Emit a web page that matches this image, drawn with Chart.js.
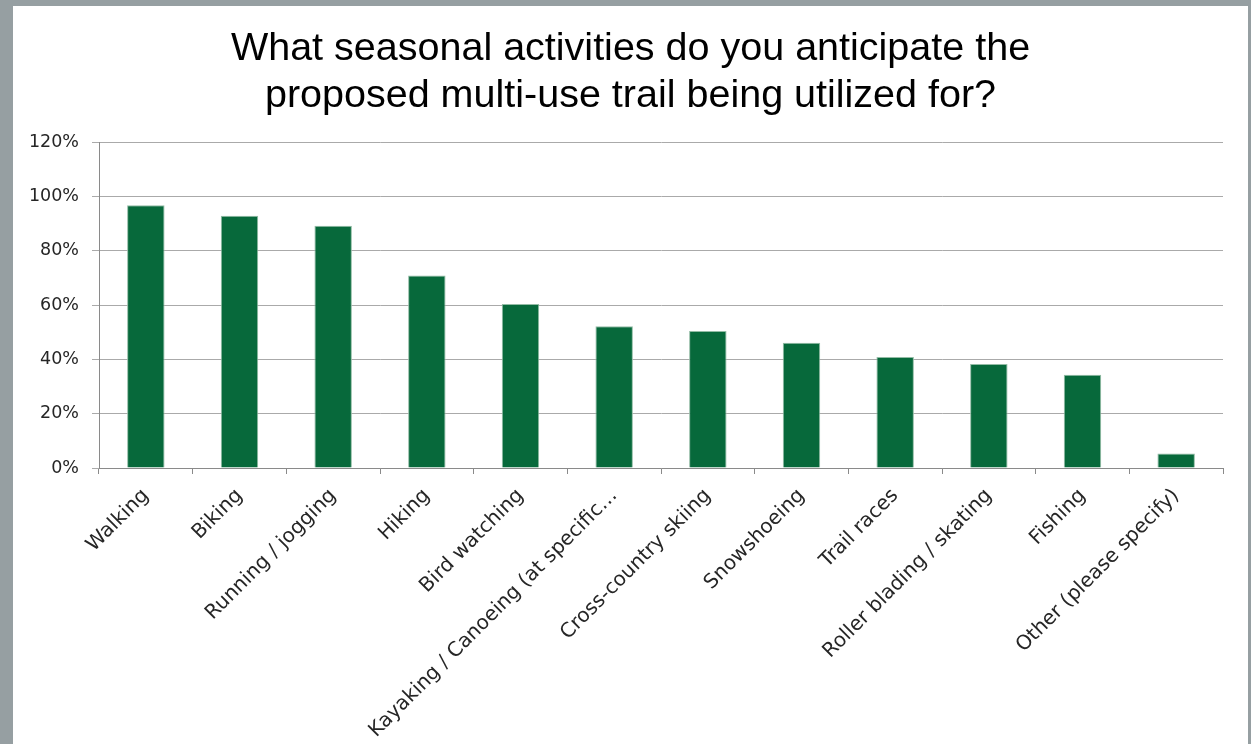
<!DOCTYPE html>
<html>
<head>
<meta charset="utf-8">
<script src="https://cdn.jsdelivr.net/npm/chart.js@4"></script>
<style>
    html, body { margin: 0; padding: 0; }
    body { width: 1251px; height: 744px; background: #969fa2; overflow: hidden; position: relative; }
    .panel { position: absolute; left: 13px; top: 6px; width: 1235px; height: 738px; background: #ffffff; }
</style>
</head>
<body>
<div class="panel"><canvas id="chart-activities"></canvas></div>
<script>
const TITLE_LINES = [
    'What seasonal activities do you anticipate the',
    'proposed multi-use trail being utilized for?'
];

const activities = [
    'Walking', 'Biking', 'Running / jogging', 'Hiking', 'Bird watching',
    'Kayaking / Canoeing (at specific…', 'Cross-country skiing', 'Snowshoeing',
    'Trail races', 'Roller blading / skating', 'Fishing', 'Other (please specify)'
];

const shares = [0.967, 0.929, 0.892, 0.709, 0.604, 0.522, 0.504, 0.461, 0.409, 0.383, 0.343, 0.053];

const yTicks = [0, 0.2, 0.4, 0.6, 0.8, 1.0, 1.2];

const LABEL_FONT = 'DejaVu Sans';

const ctx = document.getElementById('chart-activities').getContext('2d');

new Chart(ctx, {
    type: 'bar',
    data: {
        labels: activities,
        datasets: [{
            data: shares,
            backgroundColor: '#07693b',
            borderColor: '#93bca5',
            borderWidth: { left: 1, right: 1, top: 1, bottom: 0 },
            categoryPercentage: 1.0,
            barPercentage: 0.4
        }]
    },
    options: {
        responsive: true,
        maintainAspectRatio: false,
        animation: false,
        layout: { padding: 0 },
        plugins: {
            legend: { display: false },
            tooltip: { enabled: false },
            title: {
                display: true,
                text: TITLE_LINES,
                color: '#000000',
                font: { family: 'Liberation Sans', size: 39.5, weight: 'normal', lineHeight: 1.19 },
                padding: { top: 20, bottom: 22 }
            }
        },
        scales: {
            y: {
                min: 0,
                max: 1.2,
                afterBuildTicks: (axis) => { axis.ticks = yTicks.map(v => ({ value: v })); },
                afterFit: (axis) => { axis.width = 86; },
                grid: { color: '#aaaaaa', lineWidth: 1, tickLength: 7 },
                border: { color: '#8a8a8a', width: 1 },
                ticks: {
                    color: '#262626',
                    padding: 13,
                    font: { family: LABEL_FONT, size: 17.5 },
                    callback: (value) => Math.round(value * 100) + '%'
                }
            },
            x: {
                grid: { drawOnChartArea: false, drawTicks: true, tickLength: 6, color: '#8a8a8a', offset: true },
                border: { color: '#8a8a8a', width: 1 },
                afterFit: (axis) => {
                    axis.height = 276;
                    axis.paddingLeft = 0;
                    axis.paddingRight = 25;
                },
                ticks: {
                    color: '#262626',
                    maxRotation: 45,
                    minRotation: 45,
                    autoSkip: false,
                    padding: 10,
                    font: { family: LABEL_FONT, size: 20 }
                }
            }
        }
    }
});
</script>
</body>
</html>
